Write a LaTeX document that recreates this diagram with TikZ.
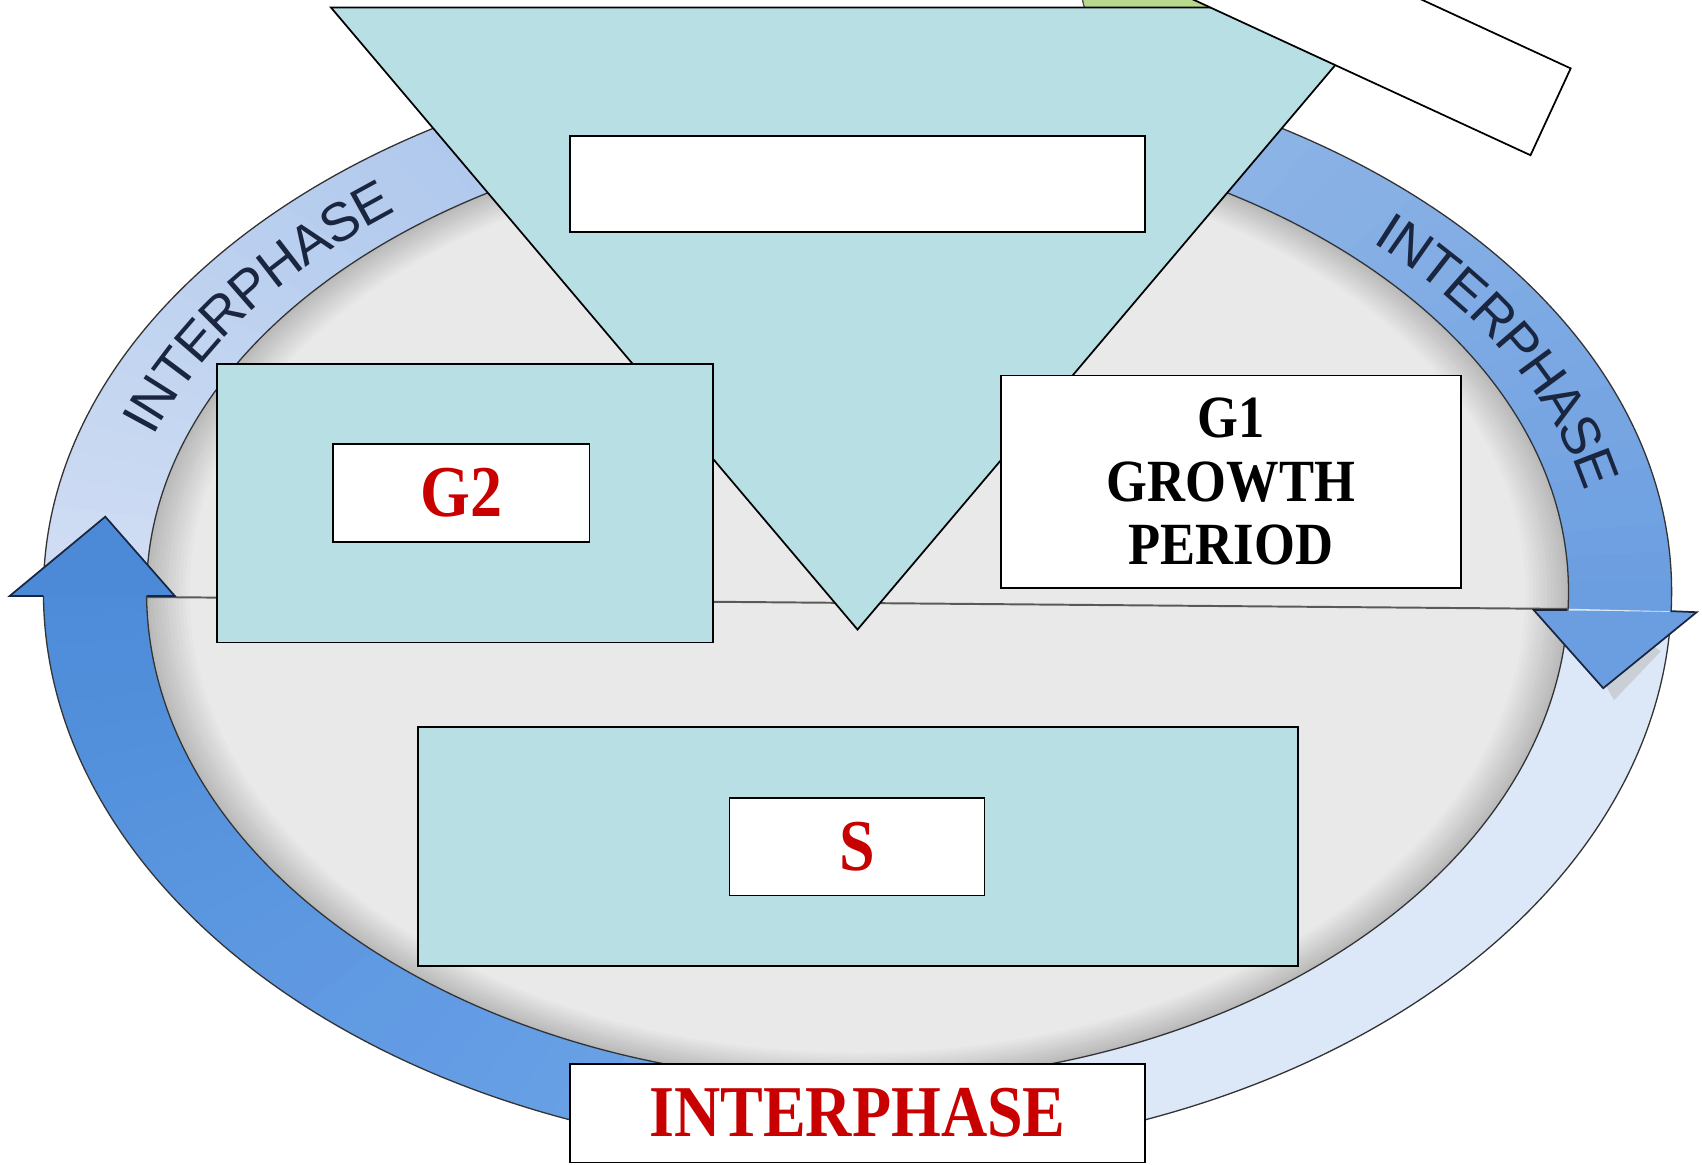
\documentclass[tikz,border=0pt]{standalone}
\usepackage{graphicx}
\usepackage{fontspec}
\setmainfont{Liberation Serif}
\newfontfamily\arialfam{Liberation Sans}
\newcommand\ringfont{\arialfam\fontsize{25}{25}\selectfont}
\usetikzlibrary{decorations.text}
\definecolor{teal1}{HTML}{B8DFE3}
\definecolor{redtxt}{HTML}{C80000}
\definecolor{topstart}{HTML}{D0DDF3}
\definecolor{topend}{HTML}{6B9EE0}
\definecolor{botstart}{HTML}{DCE8F8}
\definecolor{botmid}{HTML}{68A0E6}
\definecolor{botend}{HTML}{4C8AD8}
\definecolor{navy}{HTML}{1A2640}
\definecolor{greenb}{HTML}{B6D98C}
\definecolor{discin}{HTML}{E9E9E9}
\definecolor{discout}{HTML}{BABABA}
% half-ellipse ring shape: x radius, top y radius, bottom y radius
\newcommand\ovalpath[3]{(-#1,0) arc[start angle=180, end angle=0, x radius=#1, y radius=#2] arc[start angle=0, end angle=-180, x radius=#1, y radius=#3] -- cycle}
\begin{document}
\begin{tikzpicture}[x=0.5pt,y=0.5pt,
  box/.style={draw=black, line width=0.8pt, inner sep=0pt, outer sep=0pt},
  tealbox/.style={box, fill=teal1},
  whitebox/.style={box, fill=white},
  boxtext/.style={font=\bfseries\fontsize{29.5}{30}\selectfont, text=redtxt, inner sep=0pt},
  ringtext/.style={decorate, decoration={text along path, text align=center, text color=navy, raise=-9pt, text={|\ringfont|INTERPHASE}}},
  ringline/.style={draw=black!80, line width=0.6pt},
  headline/.style={draw=navy, line width=0.8pt, line join=miter}
]
\clip (0,0) rectangle (1568,-1073);
\fill[white] (0,0) rectangle (1568,-1073);

% green sliver at the top
\fill[greenb] (997,2) -- (1000,-12) -- (1120,-12) -- (1120,2) -- cycle;
\draw[black!70, line width=0.6pt] (997,2) .. controls (998,-4) .. (1001,-12);

\begin{scope}[shift={(790,-545)}]
% disc with rim shadow
\foreach \k in {0,...,12}{
  \pgfmathsetmacro\s{1-\k*0.005}
  \pgfmathtruncatemacro\p{\k*100/12}
  \fill[discin!\p!discout] \ovalpath{655*\s}{430*\s}{452*\s};
}
% top band (pale on the left, deeper on the right)
\foreach \i in {0,...,59}{
  \pgfmathsetmacro\aa{180-\i*181.8/60}
  \pgfmathsetmacro\ab{180-(\i+1)*181.8/60-0.4}
  \pgfmathtruncatemacro\p{\i*100/59}
  \fill[topend!\p!topstart] (\aa:750 and 500) arc[start angle=\aa, end angle=\ab, x radius=750, y radius=500]
     -- (\ab:655 and 430) arc[start angle=\ab, end angle=\aa, x radius=655, y radius=430] -- cycle;
}
% bottom band (pale on the right, strong blue on the left)
\foreach \i in {0,...,59}{
  \pgfmathsetmacro\aa{-2-\i*178.5/60}
  \pgfmathsetmacro\ab{-2-(\i+1)*178.5/60-0.4}
  \pgfmathsetmacro\am{-\aa}
  \ifdim\am pt<108pt
    \pgfmathtruncatemacro\p{max(0,min(100,(\am-72)*100/36))}
    \colorlet{segc}{botmid!\p!botstart}
  \else
    \pgfmathtruncatemacro\p{(\am-108)*100/73}
    \colorlet{segc}{botend!\p!botmid}
  \fi
  \fill[segc] (\aa:750 and 520) arc[start angle=\aa, end angle=\ab, x radius=750, y radius=520]
     -- (\ab:655 and 452) arc[start angle=\ab, end angle=\aa, x radius=655, y radius=452] -- cycle;
}
% ring outlines
\draw[ringline] \ovalpath{750}{500}{520};
\draw[ringline] \ovalpath{655}{430}{452};
% ring texts
\path[ringtext] (165:702.5 and 465) arc[start angle=165, end angle=125, x radius=702.5, y radius=465];
\path[ringtext] (49:702.5 and 465) arc[start angle=49, end angle=9, x radius=702.5, y radius=465];
\end{scope}

% divider line across the disc
\draw[black!65, line width=0.9pt] (135,-550) -- (1444,-561);

% arrowheads
\fill[botend] (9,-549) -- (97,-476) -- (161,-549) -- cycle;
\draw[headline] (40,-549) -- (9,-549) -- (97,-476) -- (161,-549) -- (135,-549);
\fill[black!25, opacity=0.6] (1470,-615) -- (1487,-645) -- (1530,-600) -- (1515,-590) -- cycle;
\fill[topend] (1413,-562) -- (1477,-634) -- (1563,-564) -- cycle;
\draw[headline] (1444,-562) -- (1413,-562) -- (1477,-634) -- (1563,-564) -- (1539,-563);

% inverted triangle
\draw[fill=teal1, line width=0.8pt] (305,-7) -- (1275,-7) -- (790,-580) -- cycle;
\node[whitebox, minimum width=265pt, minimum height=44.5pt] (topbox) at (790,-169.5) {};

% rotated white rectangle
\draw[fill=white, line width=0.8pt] (1410,-143) -- (1447,-63) -- (993,146.5) -- (956,66.5) -- cycle;

% G2
\node[tealbox, minimum width=228.5pt, minimum height=128.5pt] (g2outer) at (428.5,-463.5) {};
\node[whitebox, minimum width=118pt, minimum height=45pt] (g2box) at (425,-454) {};
\node[boxtext] (g2) at (g2box) {\scalebox{1}[1.14]{G2}};

% G1
\node[whitebox, minimum width=212pt, minimum height=98pt] (g1box) at (1134,-444) {};
\node[boxtext, text=black, font=\bfseries\fontsize{24.2}{25.7}\selectfont] (g1) at (1134,-450)
  {\scalebox{1}[1.14]{\begin{tabular}{@{}c@{}}G1\\GROWTH\\PERIOD\end{tabular}}};

% S
\node[tealbox, minimum width=405.5pt, minimum height=110pt] (souter) at (790.5,-780) {};
\node[whitebox, minimum width=117.5pt, minimum height=45pt] (sbox) at (789.5,-780) {};
\node[boxtext] (s) at (sbox) {\scalebox{1}[1.14]{S}};

% INTERPHASE
\node[whitebox, minimum width=265pt, minimum height=45.5pt] (ibox) at (790,-1025.5) {};
\node[boxtext] (itext) at (ibox) {\scalebox{1}[1.14]{INTERPHASE}};
\end{tikzpicture}
\end{document}
